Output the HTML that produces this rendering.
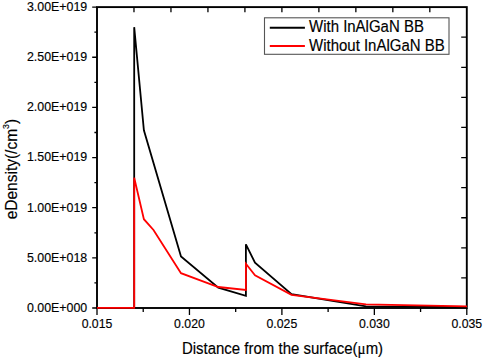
<!DOCTYPE html>
<html><head><meta charset="utf-8"><style>
html,body{margin:0;padding:0;background:#fff;}
svg{display:block;font-family:"Liberation Sans",sans-serif;}
text{stroke:#000;stroke-width:0.15px;}
</style></head><body>
<svg width="484" height="358" viewBox="0 0 484 358">
<rect width="484" height="358" fill="#fff"/>
<rect x="97" y="7.1" width="369.8" height="300.9" fill="none" stroke="#000" stroke-width="1.9"/>
<path d="M92.2,308.00H97 M92.2,257.85H97 M92.2,207.70H97 M92.2,157.55H97 M92.2,107.40H97 M92.2,57.25H97 M92.2,7.10H97 M94.4,282.93H97 M94.4,232.78H97 M94.4,182.62H97 M94.4,132.48H97 M94.4,82.33H97 M94.4,32.18H97 M97.00,308V315 M189.45,308V315 M281.90,308V315 M374.35,308V315 M466.80,308V315 M143.22,308V312 M235.68,308V312 M328.12,308V312 M420.57,308V312 M133.98,7.1V12.3 M170.96,7.1V12.3 M207.94,7.1V12.3 M244.92,7.1V12.3 M281.90,7.1V12.3 M318.88,7.1V12.3 M355.86,7.1V12.3 M392.84,7.1V12.3 M429.82,7.1V12.3 M466.8,37.19H461.2 M466.8,67.28H461.2 M466.8,97.37H461.2 M466.8,127.46H461.2 M466.8,157.55H461.2 M466.8,187.64H461.2 M466.8,217.73H461.2 M466.8,247.82H461.2 M466.8,277.91H461.2" stroke="#000" stroke-width="1.3" fill="none"/>
<polyline points="97,307.9 134.2,307.9 134.2,27.2 143.9,130.3 181,256.4 218.3,287.6 245.9,295.8 245.9,244.3 255,262.7 291.5,294.2 366,306.3 467,307" fill="none" stroke="#000" stroke-width="1.8" stroke-linejoin="miter"/>
<polyline points="97,307.9 134.2,307.9 134.2,177.7 143.9,219.2 153.5,230 181,273.2 218.3,287 245.9,290 245.9,263.8 255,275.3 291.5,294.8 366,304.3 467,306.3" fill="none" stroke="#f00" stroke-width="1.8" stroke-linejoin="miter"/>
<text transform="translate(87.2,311.80) scale(1,1.1)" text-anchor="end" font-size="12.4">0.00E+000</text>
<text transform="translate(87.2,261.65) scale(1,1.1)" text-anchor="end" font-size="12.4">5.00E+018</text>
<text transform="translate(87.2,211.50) scale(1,1.1)" text-anchor="end" font-size="12.4">1.00E+019</text>
<text transform="translate(87.2,161.35) scale(1,1.1)" text-anchor="end" font-size="12.4">1.50E+019</text>
<text transform="translate(87.2,111.20) scale(1,1.1)" text-anchor="end" font-size="12.4">2.00E+019</text>
<text transform="translate(87.2,61.05) scale(1,1.1)" text-anchor="end" font-size="12.4">2.50E+019</text>
<text transform="translate(87.2,10.90) scale(1,1.1)" text-anchor="end" font-size="12.4">3.00E+019</text>
<text transform="translate(97.00,327.9) scale(1,1.1)" text-anchor="middle" font-size="12.3">0.015</text>
<text transform="translate(189.45,327.9) scale(1,1.1)" text-anchor="middle" font-size="12.3">0.020</text>
<text transform="translate(281.90,327.9) scale(1,1.1)" text-anchor="middle" font-size="12.3">0.025</text>
<text transform="translate(374.35,327.9) scale(1,1.1)" text-anchor="middle" font-size="12.3">0.030</text>
<text transform="translate(466.80,327.9) scale(1,1.1)" text-anchor="middle" font-size="12.3">0.035</text>
<text transform="translate(282.5,353.6) scale(1,1.1)" text-anchor="middle" font-size="15">Distance from the surface(<tspan style="font-family:'Liberation Serif',serif">&#956;</tspan>m)</text>
<text transform="translate(16.8,219.3) rotate(-90) scale(1,1.1)" font-size="15.5">eDensity(/cm<tspan font-size="8.8" dy="-7.5">3</tspan><tspan dy="7.5">)</tspan></text>
<rect x="264.5" y="17.8" width="184.5" height="36.5" fill="#fff" stroke="#555" stroke-width="1.1"/>
<path d="M269.8,27.7H304.9" stroke="#000" stroke-width="2"/>
<path d="M269.8,46H304.9" stroke="#f00" stroke-width="2"/>
<text transform="translate(309,32) scale(1,1.1)" font-size="15">With InAlGaN BB</text>
<text transform="translate(309,50.8) scale(1,1.1)" font-size="15">Without InAlGaN BB</text>
</svg>
</body></html>
